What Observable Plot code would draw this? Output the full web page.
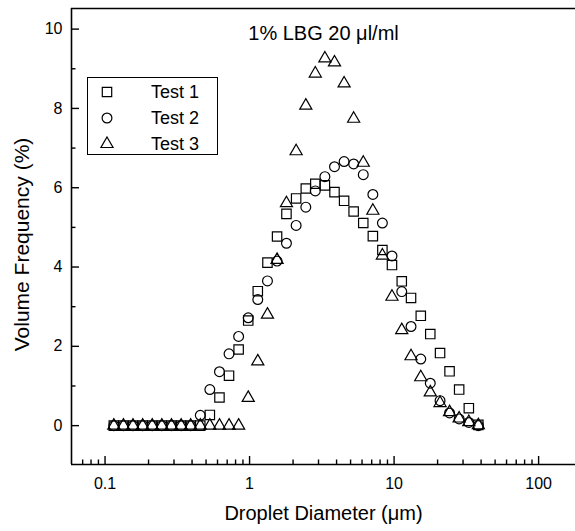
<!DOCTYPE html>
<html>
<head>
<meta charset="utf-8">
<script src="https://cdn.jsdelivr.net/npm/d3@7"></script>
<script src="https://cdn.jsdelivr.net/npm/@observablehq/plot@0.6"></script>
<style>
  html, body { margin: 0; padding: 0; background: #fff; }
  #wrap { position: relative; width: 575px; height: 531px; font-family: "Liberation Sans", Arial, sans-serif; }
  #legend { position: absolute; left: 87px; top: 77px; width: 129px; height: 76px; border: 1px solid #000; background: #fff; }
  #legend .row { position: absolute; left: 0; height: 26px; display: flex; align-items: center; font-size: 18px; color: #000; }
  #legend svg { margin-left: 12px; margin-right: 37px; overflow: visible; }
</style>
</head>
<body>
<div id="wrap"></div>
<script>
// ---- data ----
const diameters = [0.115, 0.134, 0.156, 0.182, 0.212, 0.247, 0.288, 0.336, 0.391, 0.456,
  0.531, 0.619, 0.721, 0.840, 0.979, 1.14, 1.33, 1.55, 1.80, 2.10,
  2.45, 2.85, 3.32, 3.87, 4.51, 5.25, 6.12, 7.13, 8.30, 9.67,
  11.3, 13.1, 15.3, 17.8, 20.8, 24.2, 28.2, 32.9, 38.3];
const test1 = [0, 0, 0, 0, 0, 0, 0, 0, 0, 0,
  0.27, 0.71, 1.26, 1.92, 2.65, 3.39, 4.11, 4.77, 5.34, 5.73,
  5.98, 6.10, 6.06, 5.89, 5.67, 5.40, 5.11, 4.78, 4.43, 4.05,
  3.64, 3.22, 2.77, 2.31, 1.83, 1.37, 0.91, 0.44, 0.02];
const test2 = [0, 0, 0, 0, 0, 0, 0, 0, 0, 0.26,
  0.91, 1.36, 1.81, 2.25, 2.72, 3.18, 3.65, 4.15, 4.60, 5.05,
  5.51, 5.92, 6.28, 6.53, 6.66, 6.60, 6.33, 5.83, 5.11, 4.28,
  3.38, 2.50, 1.68, 1.07, 0.63, 0.32, 0.17, 0.08, 0.0];
const test3 = [0, 0, 0, 0, 0, 0, 0, 0, 0, 0,
  0, 0, 0, 0, 0.70, 1.62, 2.80, 4.18, 5.61, 6.92,
  8.07, 8.88, 9.26, 9.16, 8.63, 7.74, 6.63, 5.42, 4.29, 3.25,
  2.41, 1.75, 1.22, 0.84, 0.57, 0.34, 0.18, 0.09, 0.01];
const seriesNames = ["Test 1", "Test 2", "Test 3"];
const seriesSymbols = ["square", "circle", "triangle"];
const xMajorTicks = [0.1, 1, 10, 100];
const xMinorTicks = [0.07, 0.08, 0.09, 0.2, 0.3, 0.4, 0.5, 0.6, 0.7, 0.8, 0.9,
  2, 3, 4, 5, 6, 7, 8, 9, 20, 30, 40, 50, 60, 70, 80, 90];
const yMajorTicks = [0, 2, 4, 6, 8, 10];
const yMinorTicks = [1, 3, 5, 7, 9];
const title = "1% LBG 20 \u03bcl/ml";
const xLabel = "Droplet Diameter (\u03bcm)";
const yLabel = "Volume Frequency (%)";

const xDomain = [0.0586, 180];
const yDomain = [-0.98, 10.52];

const W = 575, H = 531, mL = 71, mR = 0, mT = 8, mB = 67;
const innerW = W - mL - mR, innerH = H - mT - mB;

const allSeries = [test1, test2, test3];
const rows = allSeries.map((vals, k) => diameters.map((d, i) => ({d, v: vals[i], s: seriesNames[k]})));
const symbolR = [5.3, 4.9, 4.5];

const font = "Liberation Sans, Arial, sans-serif";

const chart = Plot.plot({
  width: W, height: H,
  marginLeft: mL, marginRight: mR, marginTop: mT, marginBottom: mB,
  style: {fontFamily: font, background: "white", color: "black", overflow: "visible"},
  x: {type: "log", domain: xDomain},
  y: {domain: yDomain},
  marks: [
    // frame (left, bottom, top)
    Plot.ruleX([xDomain[0]], {stroke: "black", strokeWidth: 1.6}),
    Plot.ruleY([yDomain[0]], {stroke: "black", strokeWidth: 1.6}),
    Plot.ruleY([yDomain[1]], {stroke: "black", strokeWidth: 1.6}),
    // inward ticks
    Plot.tickX(xMajorTicks, {x: d => d, insetTop: innerH - 8, stroke: "black", strokeWidth: 1.4}),
    Plot.tickX(xMinorTicks, {x: d => d, insetTop: innerH - 4.5, stroke: "black", strokeWidth: 1.4}),
    Plot.tickY(yMajorTicks, {y: d => d, insetRight: innerW - 8, stroke: "black", strokeWidth: 1.4}),
    Plot.tickY(yMinorTicks, {y: d => d, insetRight: innerW - 4.5, stroke: "black", strokeWidth: 1.4}),
    // tick labels
    Plot.axisX({ticks: xMajorTicks, tickSize: 0, tickPadding: 13, fontSize: 16, label: null, tickFormat: d => String(d)}),
    Plot.axisY({ticks: yMajorTicks, tickSize: 0, tickPadding: 9, fontSize: 16, label: null, tickFormat: d => String(d)}),
    // axis titles and chart title
    Plot.text([xLabel], {text: d => d, frameAnchor: "bottom", dy: 55, fontSize: 20, fill: "black"}),
    Plot.text([yLabel], {text: d => d, frameAnchor: "left", textAnchor: "middle", lineAnchor: "middle",
      dx: -49, dy: 8, rotate: -90, fontSize: 21, fill: "black"}),
    Plot.text([title], {text: d => d, frameAnchor: "top", dy: 17, fontSize: 20, fill: "black"}),
    // data
    ...rows.map((data, k) => Plot.dot(data, {
      x: "d", y: "v", symbol: seriesSymbols[k], r: symbolR[k],
      stroke: "black", fill: "none", strokeWidth: 1.2
    }))
  ]
});

const wrap = document.getElementById("wrap");
wrap.appendChild(chart);

// legend
const legend = document.createElement("div");
legend.id = "legend";
const d3Symbols = [d3.symbolSquare, d3.symbolCircle, d3.symbolTriangle];
seriesNames.forEach((name, k) => {
  const row = document.createElement("div");
  row.className = "row";
  row.style.top = (1 + k * 26) + "px";
  const sym = d3.create("svg").attr("width", 14).attr("height", 14);
  sym.append("path")
    .attr("transform", "translate(7,7)")
    .attr("d", d3.symbol(d3Symbols[k], Math.PI * symbolR[k] * symbolR[k])())
    .attr("fill", "none").attr("stroke", "black").attr("stroke-width", 1.2);
  row.appendChild(sym.node());
  const t = document.createElement("span");
  t.textContent = name;
  row.appendChild(t);
  legend.appendChild(row);
});
wrap.appendChild(legend);
</script>
</body>
</html>
